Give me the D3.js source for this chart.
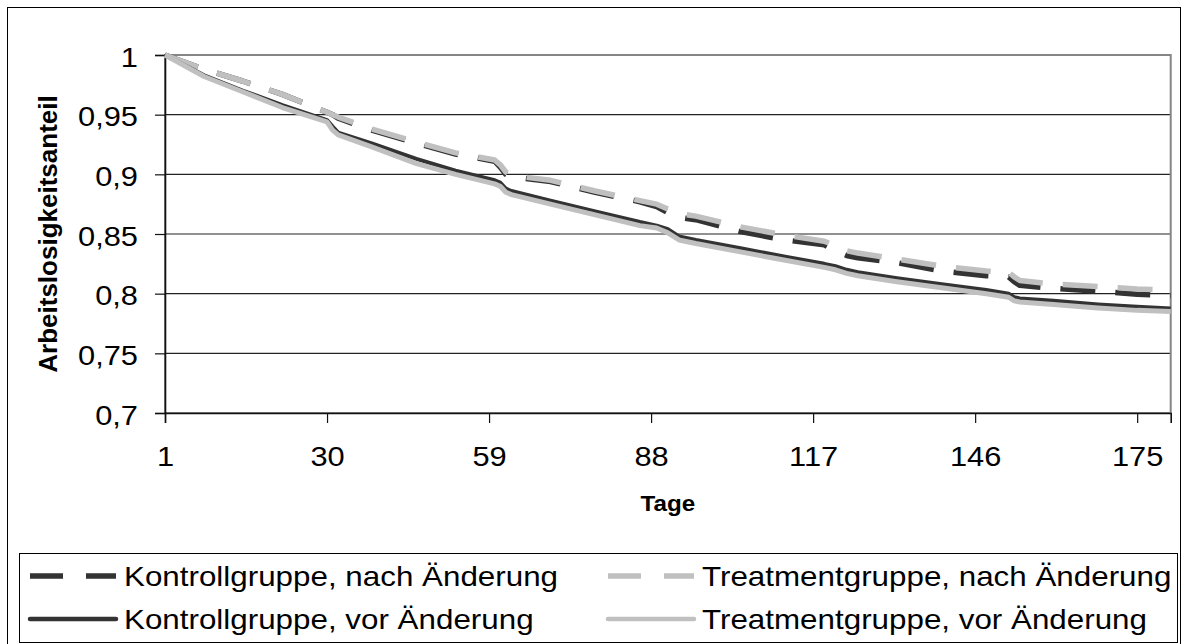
<!DOCTYPE html>
<html>
<head>
<meta charset="utf-8">
<script src="https://cdn.jsdelivr.net/npm/d3@7/dist/d3.min.js"></script>
<style>
body { margin: 0; background: #fff; }
svg { display: block; font-family: "Liberation Sans", Arial, sans-serif; }
</style>
</head>
<body>
<script>
var tage = [1, 8, 15, 22, 30, 31, 32, 38, 46, 53, 60, 61, 62, 63, 70, 78, 86, 89, 91, 93, 96,
    104, 112, 119, 121, 123, 125, 132, 140, 148, 152, 153, 154, 160, 168, 175, 181];

var kontrollNach = [1, 0.988, 0.978, 0.967, 0.952, 0.950, 0.947, 0.937, 0.926, 0.917, 0.911, 0.906, 0.900, 0.898,
    0.894, 0.885, 0.877, 0.873, 0.868, 0.864, 0.862, 0.852, 0.845, 0.841, 0.836, 0.832, 0.830,
    0.826, 0.819, 0.815, 0.814, 0.810, 0.807, 0.8045, 0.802, 0.7995, 0.7985];
var treatmentNach = [1, 0.988, 0.978, 0.967, 0.952, 0.950, 0.948, 0.938, 0.927, 0.918, 0.912, 0.908, 0.902, 0.899,
    0.895, 0.886, 0.878, 0.875, 0.871, 0.867, 0.865, 0.856, 0.849, 0.844, 0.840, 0.836, 0.834,
    0.829, 0.823, 0.819, 0.818, 0.814, 0.811, 0.808, 0.806, 0.804, 0.803];
var kontrollVor = [1, 0.983, 0.970, 0.958, 0.9455, 0.940, 0.935, 0.926, 0.913, 0.903, 0.895, 0.893, 0.888, 0.886,
    0.878, 0.869, 0.860, 0.857, 0.854, 0.848, 0.845, 0.838, 0.831, 0.825, 0.823, 0.820, 0.818,
    0.813, 0.808, 0.803, 0.800, 0.797, 0.796, 0.794, 0.791, 0.789, 0.7875];
var treatmentVor = [1, 0.982, 0.969, 0.956, 0.944, 0.937, 0.933, 0.923, 0.909, 0.900, 0.892, 0.890, 0.885, 0.883,
    0.875, 0.866, 0.857, 0.855, 0.851, 0.845, 0.842, 0.835, 0.828, 0.822, 0.820, 0.817, 0.815,
    0.810, 0.805, 0.800, 0.797, 0.794, 0.793, 0.791, 0.788, 0.786, 0.785];

var xTicks = [1, 30, 59, 88, 117, 146, 175];
var yTicks = [0.7, 0.75, 0.8, 0.85, 0.9, 0.95, 1];
var labels = ["Kontrollgruppe, nach Änderung", "Treatmentgruppe, nach Änderung",
    "Kontrollgruppe, vor Änderung", "Treatmentgruppe, vor Änderung"];

var series = [
    { name: labels[0], values: kontrollNach, color: "#333333", w: 5.5, dash: "35,20" },
    { name: labels[1], values: treatmentNach, color: "#c0c0c0", w: 5.5, dash: "35,20" },
    { name: labels[2], values: kontrollVor, color: "#333333", w: 4, dash: null },
    { name: labels[3], values: treatmentVor, color: "#c0c0c0", w: 5, dash: null }
];

var margin = { top: 55, right: 16.3, bottom: 231, left: 165 },
    width = 1187 - margin.left - margin.right,
    height = 644 - margin.top - margin.bottom;

var svg = d3.select("body").append("svg")
    .attr("width", 1187)
    .attr("height", 644);

// outer chart frame
svg.append("rect")
    .attr("x", 7.5).attr("y", 7.5)
    .attr("width", 1173).attr("height", 660)
    .attr("fill", "none").attr("stroke", "#000").attr("stroke-width", 1);

var g = svg.append("g")
    .attr("transform", "translate(" + margin.left + "," + margin.top + ")");

var xScale = d3.scaleLinear().domain([1, 181]).range([0, width]);
var yScale = d3.scaleLinear().domain([0.7, 1]).range([height, 0]);

var fmt = function (d) { return d3.format(".2~f")(d).replace(".", ","); };

// gridlines
g.selectAll(".grid")
    .data(yTicks.filter(function (d) { return d > 0.7 && d < 1; }))
    .enter().append("line")
    .attr("x1", 0).attr("x2", width)
    .attr("y1", function (d) { return yScale(d); })
    .attr("y2", function (d) { return yScale(d); })
    .attr("stroke", "#222").attr("stroke-width", 1.2);

// plot area border
g.append("rect")
    .attr("width", width).attr("height", height)
    .attr("fill", "none").attr("stroke", "#858585").attr("stroke-width", 2);

var yAxis = d3.axisLeft(yScale).tickValues(yTicks).tickSize(10).tickFormat(fmt);
var xAxis = d3.axisBottom(xScale).tickValues(xTicks).tickSize(10);

var gy = g.append("g").attr("class", "y axis").call(yAxis);
var gx = g.append("g").attr("class", "x axis")
    .attr("transform", "translate(0," + height + ")")
    .call(xAxis);

[gx, gy].forEach(function (ax) {
    ax.select(".domain").attr("stroke", "#111").attr("stroke-width", 1.6);
    ax.selectAll(".tick line").attr("stroke", "#111").attr("stroke-width", 1.2);
    ax.selectAll(".tick text").attr("fill", "#000")
        .style("font-size", "28px").style("font-family", "'Liberation Sans', Arial, sans-serif");
});

gy.selectAll(".tick text")
    .attr("x", 0).attr("dy", "0.4em")
    .attr("transform", "translate(-27,0) scale(1.1,1)");
gx.selectAll(".tick text")
    .attr("y", 53).attr("dy", null)
    .attr("transform", "scale(1.1,1)");

// curves
var line = d3.line()
    .x(function (d) { return xScale(d[0]); })
    .y(function (d) { return yScale(d[1]); });

series.forEach(function (s) {
    g.append("path")
        .datum(tage.map(function (t, i) { return [t, s.values[i]]; }))
        .attr("fill", "none")
        .attr("stroke", s.color)
        .attr("stroke-width", s.w)
        .attr("stroke-dasharray", s.dash)
        .attr("stroke-linejoin", "round")
        .attr("d", line);
});

// axis titles
svg.append("text")
    .attr("transform", "translate(57,234) rotate(-90)")
    .attr("text-anchor", "middle")
    .style("font-size", "26px").style("font-weight", "bold")
    .text("Arbeitslosigkeitsanteil");

svg.append("text")
    .attr("transform", "translate(" + (margin.left + width / 2) + ",511) scale(1.1,1)")
    .attr("text-anchor", "middle")
    .style("font-size", "22px").style("font-weight", "bold")
    .text("Tage");

// legend
var legend = svg.append("g");
legend.append("rect")
    .attr("x", 19.5).attr("y", 553.5)
    .attr("width", 1158).attr("height", 89)
    .attr("fill", "#fff").attr("stroke", "#000").attr("stroke-width", 1);

var cols = [30, 608], rows = [576, 619];
series.forEach(function (s, i) {
    var lx = cols[i % 2], ly = rows[Math.floor(i / 2)];
    legend.append("line")
        .attr("x1", lx).attr("x2", lx + 86)
        .attr("y1", ly).attr("y2", ly)
        .attr("stroke", s.color)
        .attr("stroke-width", s.dash ? 5.5 : 4.5)
        .attr("stroke-dasharray", s.dash ? "33,23" : null)
        .attr("stroke-linecap", s.dash ? "butt" : "round");
    legend.append("text")
        .attr("transform", "translate(" + (lx + 94) + "," + (ly + 10) + ") scale(1.12,1)")
        .style("font-size", "28px")
        .text(s.name);
});
</script>
</body>
</html>
